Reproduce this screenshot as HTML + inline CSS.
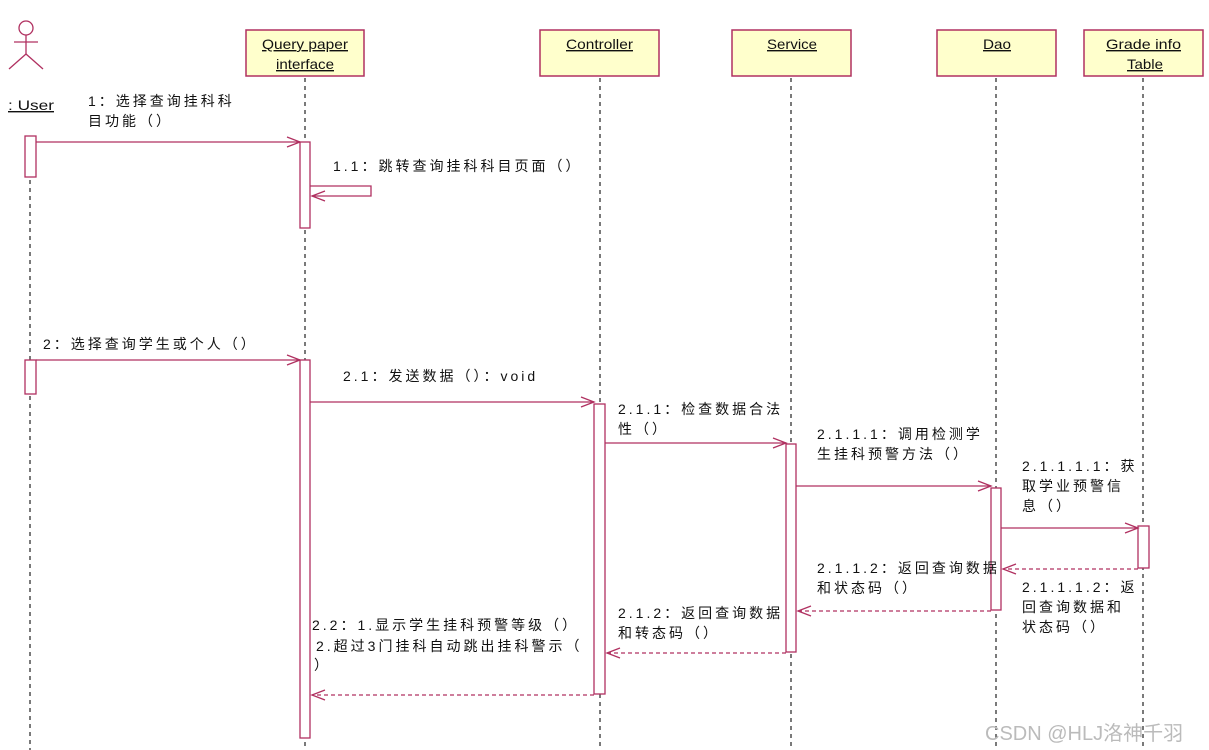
<!DOCTYPE html>
<html><head><meta charset="utf-8"><style>
html,body{margin:0;padding:0;background:#fff;}
svg{display:block;}
text{font-family:"Liberation Sans","Noto Sans CJK SC",sans-serif;font-size:14px;fill:#111;letter-spacing:3px;}
.h{font-size:14px;text-decoration:underline;letter-spacing:0;}
</style></head><body>
<svg width="1209" height="750" viewBox="0 0 1209 750" xmlns="http://www.w3.org/2000/svg">
<g stroke="#222" stroke-width="1.2" stroke-dasharray="4,4" fill="none">
<line x1="30" y1="180" x2="30" y2="750"/>
<line x1="305" y1="78" x2="305" y2="750"/>
<line x1="600" y1="78" x2="600" y2="750"/>
<line x1="791" y1="78" x2="791" y2="750"/>
<line x1="996" y1="78" x2="996" y2="750"/>
<line x1="1143" y1="78" x2="1143" y2="750"/>
</g>
<g stroke="#b03060" stroke-width="1.3" fill="none">
<circle cx="26" cy="28" r="7"/>
<line x1="26" y1="35" x2="26" y2="54"/>
<line x1="14" y1="42" x2="38" y2="42"/>
<line x1="26" y1="54" x2="9" y2="69"/>
<line x1="26" y1="54" x2="43" y2="69"/>
</g>
<text x="8" y="110" class="h" textLength="46" lengthAdjust="spacingAndGlyphs">: User</text>
<g fill="#ffffcc" stroke="#b03060" stroke-width="1.5">
<rect x="246" y="30" width="118" height="46"/>
<rect x="540" y="30" width="119" height="46"/>
<rect x="732" y="30" width="119" height="46"/>
<rect x="937" y="30" width="119" height="46"/>
<rect x="1084" y="30" width="119" height="46"/>
</g>
<text x="262" y="49" class="h" textLength="86" lengthAdjust="spacingAndGlyphs">Query paper </text>
<text x="276" y="69" class="h" textLength="58" lengthAdjust="spacingAndGlyphs">interface</text>
<text x="566" y="49" class="h" textLength="67" lengthAdjust="spacingAndGlyphs">Controller</text>
<text x="767" y="49" class="h" textLength="50" lengthAdjust="spacingAndGlyphs">Service</text>
<text x="983" y="49" class="h" textLength="28" lengthAdjust="spacingAndGlyphs">Dao</text>
<text x="1106" y="49" class="h" textLength="75" lengthAdjust="spacingAndGlyphs">Grade info </text>
<text x="1127" y="69" class="h" textLength="36" lengthAdjust="spacingAndGlyphs">Table</text>
<g fill="#fff" stroke="#b03060" stroke-width="1.3">
<rect x="25" y="136" width="11" height="41"/>
<rect x="25" y="360" width="11" height="34"/>
<rect x="300" y="142" width="10" height="86"/>
<rect x="300" y="360" width="10" height="378"/>
<rect x="594" y="404" width="11" height="290"/>
<rect x="786" y="444" width="10" height="208"/>
<rect x="991" y="488" width="10" height="122"/>
<rect x="1138" y="526" width="11" height="42"/>
</g>
<g stroke="#b03060" stroke-width="1.3" fill="none">
<line x1="36" y1="142" x2="300" y2="142"/><polyline points="287,137 300,142 287,147"/>
<polyline points="310,186 371,186 371,196 312,196"/><polyline points="325,191 312,196 325,201"/>
<line x1="36" y1="360" x2="300" y2="360"/><polyline points="287,355 300,360 287,365"/>
<line x1="310" y1="402" x2="594" y2="402"/><polyline points="581,397 594,402 581,407"/>
<line x1="605" y1="443" x2="786" y2="443"/><polyline points="773,438 786,443 773,448"/>
<line x1="796" y1="486" x2="991" y2="486"/><polyline points="978,481 991,486 978,491"/>
<line x1="1001" y1="528" x2="1138" y2="528"/><polyline points="1125,523 1138,528 1125,533"/>
<g stroke-dasharray="4,3">
<line x1="1138" y1="569" x2="1003" y2="569"/>
<line x1="991" y1="611" x2="798" y2="611"/>
<line x1="786" y1="653" x2="607" y2="653"/>
<line x1="594" y1="695" x2="312" y2="695"/>
</g>
<polyline points="1016,564 1003,569 1016,574"/>
<polyline points="811,606 798,611 811,616"/>
<polyline points="620,648 607,653 620,658"/>
<polyline points="325,690 312,695 325,700"/>
</g>
<text x="88" y="106">1：选择查询挂科科</text>
<text x="88" y="126">目功能（）</text>
<text x="333" y="171">1.1：跳转查询挂科科目页面（）</text>
<text x="43" y="349">2：选择查询学生或个人（）</text>
<text x="343" y="381">2.1：发送数据（）：void</text>
<text x="618" y="414">2.1.1：检查数据合法</text>
<text x="618" y="434">性（）</text>
<text x="817" y="439">2.1.1.1：调用检测学</text>
<text x="817" y="459">生挂科预警方法（）</text>
<text x="1022" y="471">2.1.1.1.1：获</text>
<text x="1022" y="491">取学业预警信</text>
<text x="1022" y="511">息（）</text>
<text x="817" y="573">2.1.1.2：返回查询数据</text>
<text x="817" y="593">和状态码（）</text>
<text x="1022" y="592">2.1.1.1.2：返</text>
<text x="1022" y="612">回查询数据和</text>
<text x="1022" y="632">状态码（）</text>
<text x="618" y="618">2.1.2：返回查询数据</text>
<text x="618" y="638">和转态码（）</text>
<text x="312" y="630">2.2：1.显示学生挂科预警等级（）</text>
<text x="316" y="651">2.超过3门挂科自动跳出挂科警示（</text>
<text x="314" y="670">）</text>
<text x="985" y="740" style="fill:#bbb;font-size:20px;letter-spacing:0">CSDN @HLJ洛神千羽</text>
</svg>
</body></html>
